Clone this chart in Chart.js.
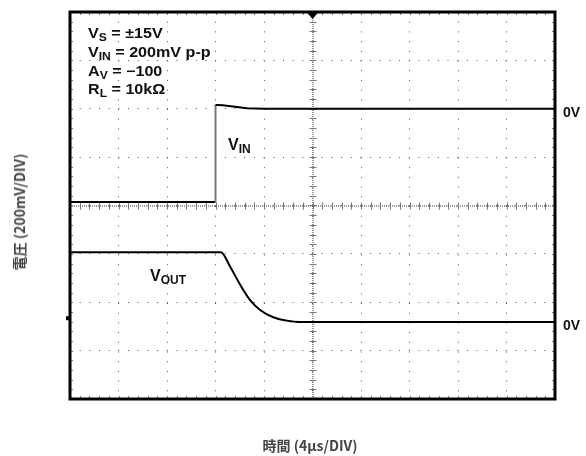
<!DOCTYPE html>
<html>
<head>
<meta charset="utf-8">
<script src="https://cdn.jsdelivr.net/npm/chart.js@4/dist/chart.umd.min.js"></script>
<style>
  html, body { margin: 0; padding: 0; background: #fff; }
  #wrap { position: relative; width: 586px; height: 456px; }
  canvas { position: absolute; left: 0; top: 0; }
  .lbl { position: absolute; font-family: "Liberation Sans", Arial, sans-serif; font-weight: bold; color: #111; white-space: nowrap; line-height: 1; }
  .lbl sub { font-size: 75%; vertical-align: -0.25em; line-height: 0; }
  .cond { font-size: 14px; transform: scaleX(1.15); transform-origin: 0 50%; }
  .trace { font-size: 16px; }
  .zero { font-size: 14px; }
  .axt { position: absolute; font-family: "Noto Sans CJK JP", "Liberation Sans", sans-serif; font-weight: bold; font-size: 14px; color: #444; white-space: nowrap; line-height: 1; }
</style>
</head>
<body>
<div id="wrap">
  <canvas id="scope" width="586" height="456"></canvas>
  <div class="lbl cond" style="left:88px; top:26px;">V<sub>S</sub> = ±15V</div>
  <div class="lbl cond" style="left:88px; top:45px;">V<sub>IN</sub> = 200mV p-p</div>
  <div class="lbl cond" style="left:88px; top:64px;">A<sub>V</sub> = −100</div>
  <div class="lbl cond" style="left:88px; top:82px;">R<sub>L</sub> = 10kΩ</div>
  <div class="lbl trace" style="left:228px; top:137px;">V<sub>IN</sub></div>
  <div class="lbl trace" style="left:150px; top:268px;">V<sub>OUT</sub></div>
  <div class="lbl zero" style="left:563px; top:105px;">0V</div>
  <div class="lbl zero" style="left:563px; top:318px;">0V</div>
  <div class="axt" style="left:19px; top:212px; transform: translate(-50%,-50%) rotate(-90deg);">電圧 (200mV/DIV)</div>
  <div class="axt" style="left:310px; top:445px; transform: translate(-50%,-50%);">時間 (4µs/DIV)</div>
</div>
<script>
// time axis in divisions (4us/DIV), voltage in divisions (200mV/DIV)
const xDivs = [0, 10];
const yDivs = [-4, 4];

const vinX = [0, 3.0, 3.0, 3.05, 3.15, 3.4, 3.65, 4.0, 5.0, 10];
const vinY = [0.07, 0.07, 2.08, 2.08, 2.07, 2.04, 2.01, 2.0, 2.0, 2.0];

const voutX = [0, 3.11, 3.30, 3.51, 3.71, 3.92, 4.19, 4.47, 4.74, 5.0, 10];
const voutY = [-0.965, -0.965, -1.26, -1.64, -1.95, -2.16, -2.31, -2.38, -2.41, -2.41, -2.41];
const voutGround = -2.33;

function pts(xs, ys){ return xs.map((x, i) => ({ x: x, y: ys[i] })); }

// scope screen: frame, centre axes with crosses, minor ticks, trigger marker
const scopeDecor = {
  id: 'scopeDecor',
  beforeDatasetsDraw(chart){
    const { ctx, chartArea: a, scales: { x, y } } = chart;
    const cx = x.getPixelForValue(5), cy = y.getPixelForValue(0);
    ctx.save();
    ctx.strokeStyle = '#333';
    ctx.lineWidth = 1;
    ctx.setLineDash([1, 1]);
    ctx.beginPath();
    ctx.moveTo(cx + 0.5, a.top); ctx.lineTo(cx + 0.5, a.bottom);
    ctx.moveTo(a.left, cy + 0.5); ctx.lineTo(a.right, cy + 0.5);
    ctx.stroke();
    ctx.setLineDash([]);
    ctx.strokeStyle = '#777';
    ctx.beginPath();
    for (let v = xDivs[0]; v <= xDivs[1] + 1e-6; v += 0.2){
      const px = Math.round(x.getPixelForValue(v)) + 0.5;
      ctx.moveTo(px, cy - 3); ctx.lineTo(px, cy + 4);
      ctx.moveTo(px, a.top); ctx.lineTo(px, a.top + 3);
      ctx.moveTo(px, a.bottom); ctx.lineTo(px, a.bottom - 3);
    }
    for (let v = yDivs[0]; v <= yDivs[1] + 1e-6; v += 0.2){
      const py = Math.round(y.getPixelForValue(v)) + 0.5;
      ctx.moveTo(cx - 3, py); ctx.lineTo(cx + 4, py);
      ctx.moveTo(a.left, py); ctx.lineTo(a.left + 3, py);
      ctx.moveTo(a.right, py); ctx.lineTo(a.right - 3, py);
    }
    ctx.stroke();
    ctx.restore();
  },
  afterDraw(chart){
    const { ctx, chartArea: a, scales: { x, y } } = chart;
    ctx.save();
    ctx.strokeStyle = '#000';
    ctx.lineWidth = 3;
    ctx.strokeRect(a.left, a.top, a.right - a.left, a.bottom - a.top);
    const tx = x.getPixelForValue(5);
    ctx.fillStyle = '#000';
    ctx.beginPath();
    ctx.moveTo(tx - 6, a.top); ctx.lineTo(tx + 6, a.top); ctx.lineTo(tx, a.top + 7);
    ctx.closePath();
    ctx.fill();
    // ground marker of the output channel
    ctx.fillRect(a.left - 4, y.getPixelForValue(voutGround) - 2, 3, 4);
    ctx.restore();
  }
};

const gridOpts = {
  color: '#555',
  lineWidth: 1,
  drawTicks: false
};

new Chart(document.getElementById('scope'), {
  type: 'scatter',
  data: {
    datasets: [
      {
        label: 'VIN',
        data: pts(vinX, vinY),
        showLine: true,
        borderColor: '#000',
        borderWidth: 2,
        pointRadius: 0,
        tension: 0,
        segment: {
          borderColor: c => c.p0.parsed.x === c.p1.parsed.x ? '#777' : '#000'
        }
      },
      {
        label: 'VOUT',
        data: pts(voutX, voutY),
        showLine: true,
        borderColor: '#000',
        borderWidth: 2,
        pointRadius: 0,
        cubicInterpolationMode: 'monotone'
      }
    ]
  },
  options: {
    responsive: false,
    animation: false,
    layout: { padding: { left: 70, right: 31, top: 12, bottom: 57 } },
    plugins: { legend: { display: false }, tooltip: { enabled: false } },
    scales: {
      x: {
        type: 'linear', min: xDivs[0], max: xDivs[1],
        ticks: { display: false, stepSize: 1 },
        grid: gridOpts,
        border: { display: false, dash: [1, 8.7] }
      },
      y: {
        type: 'linear', min: yDivs[0], max: yDivs[1],
        ticks: { display: false, stepSize: 1 },
        grid: gridOpts,
        border: { display: false, dash: [1, 8.68] }
      }
    }
  },
  plugins: [scopeDecor]
});
</script>
</body>
</html>
